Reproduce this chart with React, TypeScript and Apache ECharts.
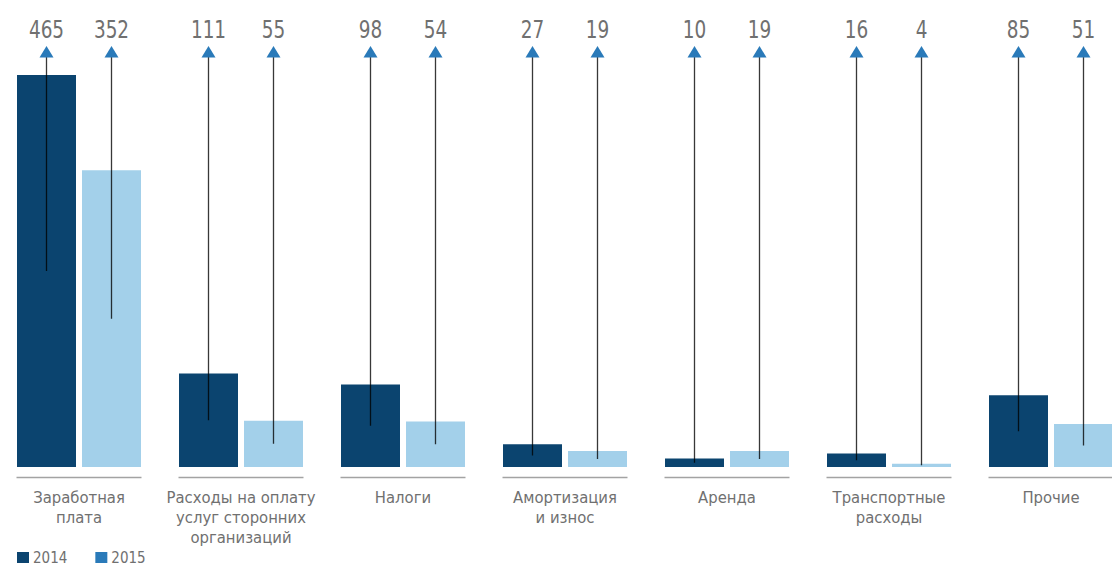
import React, { useEffect, useRef } from "react";
import * as echarts from "echarts";

const categories = [
  "Заработная\nплата",
  "Расходы на оплату\nуслуг сторонних\nорганизаций",
  "Налоги",
  "Амортизация\nи износ",
  "Аренда",
  "Транспортные\nрасходы",
  "Прочие",
];
const seriesNames = ["2014", "2015"];
const values2014 = [465, 111, 98, 27, 10, 16, 85];
const values2015 = [352, 55, 54, 19, 19, 4, 51];

const FONT = "'DejaVu Sans Condensed', 'Liberation Sans Narrow', sans-serif";
const DARK = "#0b446f";
const LIGHT = "#a3d0ea";
const ARROW = "#2a7ab9";
const TEXT = "#707070";
const BAR_W = 59;
const GAP = 6;
const SHIFT = 2;

function arrowSeries(name: string, values: number[], offset: number) {
  return {
    type: "custom",
    name,
    z: 10,
    clip: false,
    data: values.map((v, i) => [i, v]),
    renderItem: (params: any, api: any) => {
      const idx = api.value(0);
      const v = api.value(1);
      const x = api.coord([idx, 0])[0] + offset;
      const yMid = api.coord([idx, v / 2])[1];
      return {
        type: "group",
        children: [
          {
            type: "line",
            shape: { x1: x, y1: 56, x2: x, y2: yMid },
            style: { stroke: "rgba(0,0,0,0.78)", lineWidth: 1.3 },
          },
          {
            type: "polygon",
            shape: { points: [[x - 7, 57.5], [x, 46], [x + 7, 57.5]] },
            style: { fill: ARROW },
          },
          {
            type: "text",
            x: x,
            y: 29,
            scaleX: 0.82,
            style: {
              text: String(v),
              fill: TEXT,
              font: `25px ${FONT}`,
              align: "center",
              verticalAlign: "middle",
            },
          },
        ],
      };
    },
  };
}

export default function App() {
  const ref = useRef<HTMLDivElement>(null);
  useEffect(() => {
    if (!ref.current) return;
    const chart = echarts.init(ref.current, undefined, { renderer: "svg" });
    const half = (BAR_W + GAP) / 2;
    chart.setOption({
      animation: false,
      grid: { left: 0, right: 0, top: 75, bottom: 100, containLabel: false },
      legend: {
        left: 17 + SHIFT,
        top: 550,
        padding: 0,
        selectedMode: false,
        itemWidth: 12,
        itemHeight: 11,
        itemGap: 28,
        icon: "rect",
        textStyle: { fontFamily: FONT, fontSize: 15, lineHeight: 14, color: TEXT, padding: [0, 0, 0, -1] },
        data: [
          { name: seriesNames[0], itemStyle: { color: DARK } },
          { name: seriesNames[1], itemStyle: { color: ARROW } },
        ],
      },
      xAxis: {
        type: "category",
        data: categories,
        axisLine: { show: false },
        axisTick: { show: false },
        axisLabel: {
          margin: 20,
          fontFamily: FONT,
          fontSize: 16.5,
          lineHeight: 20,
          color: TEXT,
          interval: 0,
        },
      },
      yAxis: {
        type: "value",
        min: 0,
        max: Math.max(...values2014, ...values2015),
        show: false,
        splitLine: { show: false },
      },
      series: [
        {
          type: "bar",
          name: seriesNames[0],
          data: values2014,
          barWidth: BAR_W,
          barGap: `${(GAP / BAR_W) * 100}%`,
          itemStyle: { color: DARK },
        },
        {
          type: "bar",
          name: seriesNames[1],
          data: values2015,
          barWidth: BAR_W,
          barGap: `${(GAP / BAR_W) * 100}%`,
          itemStyle: { color: LIGHT },
        },
        {
          type: "custom",
          name: "baseline",
          z: 5,
          data: categories.map((_, i) => [i, 0]),
          renderItem: (params: any, api: any) => {
            const p = api.coord([api.value(0), 0]);
            const w = BAR_W + GAP / 2;
            return {
              type: "line",
              shape: { x1: p[0] - w - 0.5, y1: p[1] + 10.5, x2: p[0] + w + 0.5, y2: p[1] + 10.5 },
              style: { stroke: "#a3a3a3", lineWidth: 1.5 },
            };
          },
        },
        arrowSeries("a2014", values2014, -half),
        arrowSeries("a2015", values2015, half),
      ],
    });
    return () => chart.dispose();
  }, []);
  return (
    <div
      style={{ position: "fixed", left: 0, top: 0, width: 1112, height: 567, overflow: "hidden", background: "#fff" }}
    >
      <div
        ref={ref}
        style={{ position: "absolute", left: -SHIFT, top: 0, width: 1134, height: 567 }}
      />
    </div>
  );
}
